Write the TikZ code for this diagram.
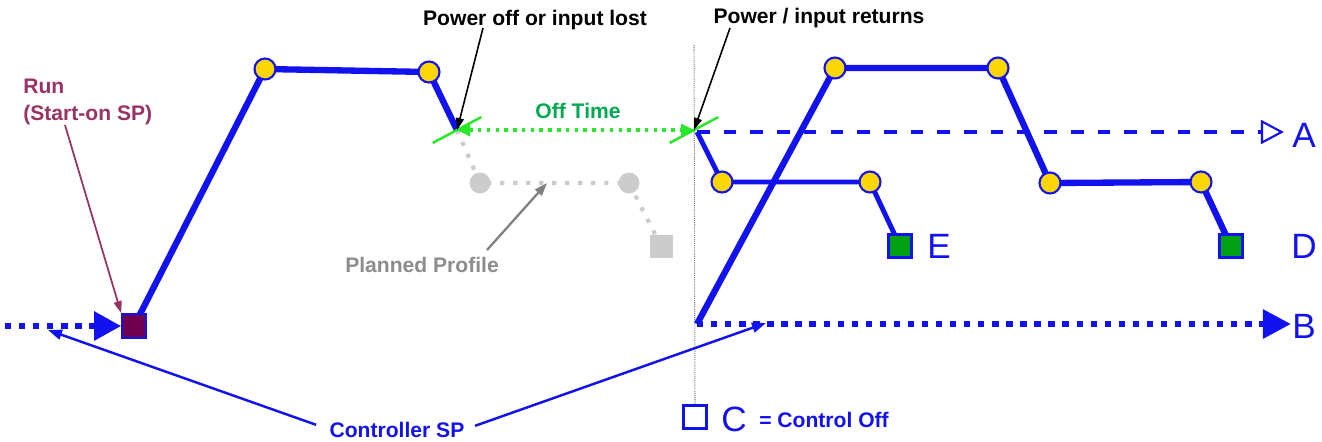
\documentclass[tikz,border=0pt]{standalone}
\usepackage{fontspec}
\setmainfont{Liberation Sans}
\usetikzlibrary{arrows.meta}
\definecolor{pblue}{RGB}{18,18,238}
\definecolor{pyellow}{RGB}{252,214,0}
\definecolor{pgreen}{RGB}{0,160,20}
\definecolor{pplum}{RGB}{153,51,102}
\definecolor{prun}{RGB}{110,0,80}
\definecolor{pgray}{RGB}{204,204,204}
\definecolor{plabgray}{RGB}{140,140,140}
\definecolor{parrgray}{RGB}{128,128,128}
\definecolor{offgreen}{RGB}{0,168,80}
\definecolor{brightgreen}{RGB}{40,232,40}
\pgfdeclarelayer{bg}
\pgfsetlayers{bg,main}
\begin{document}
\begin{tikzpicture}[x=0.02cm,y=-0.02cm,
  prof/.style={draw=pblue,line width=3.6pt,line join=round},
  eprof/.style={draw=pblue,line width=2.8pt,line join=round},
  ydot/.style={circle,draw=pblue,fill=pyellow,line width=1.2pt,minimum size=0.42cm,inner sep=0pt},
  gsq/.style={rectangle,draw=pblue,fill=pgreen,line width=1.2pt,minimum size=0.46cm,inner sep=0pt},
  runsq/.style={rectangle,draw=pblue,fill=prun,line width=1pt,minimum size=0.48cm,inner sep=0pt},
  csq/.style={rectangle,draw=pblue,fill=white,line width=1.2pt,minimum size=0.46cm,inner sep=0pt},
  gcirc/.style={circle,fill=pgray,minimum size=0.42cm,inner sep=0pt},
  gbox/.style={rectangle,fill=pgray,minimum size=0.46cm,inner sep=0pt},
  graydot/.style={draw=pgray,line width=2.4pt,dash pattern=on 2.4pt off 5pt},
  spdot/.style={draw=pblue,line width=3.4pt,dash pattern=on 3.6pt off 4.4pt},
  adash/.style={draw=pblue,line width=2.8pt,dash pattern=on 7.2pt off 8pt},
  ticklen/.style={rectangle,fill=brightgreen,minimum width=1.1cm,minimum height=0.05cm,inner sep=0pt},
  offarrow/.style={draw=brightgreen,line width=2pt,dash pattern=on 2pt off 3pt,
     {Triangle[length=0.26cm,width=0.24cm]}-{Triangle[length=0.26cm,width=0.24cm]}},
  blkarrow/.style={draw=black,line width=0.9pt,-{Triangle[length=0.24cm,width=0.16cm]}},
  runarrow/.style={draw=pplum,line width=1pt,-{Triangle[length=0.24cm,width=0.16cm]}},
  ctrlarrow/.style={draw=pblue,line width=1.4pt,-{Triangle[length=0.28cm,width=0.2cm]}},
  pparrow/.style={draw=parrgray,line width=1.3pt,-{Triangle[length=0.26cm,width=0.18cm]}},
  vline/.style={draw=gray,line width=0.6pt,dash pattern=on 0.6pt off 0.6pt},
  lab/.style={font=\fontsize{12}{14}\selectfont\bfseries,inner sep=0pt,anchor=base},
  letter/.style={font=\fontsize{20}{24}\selectfont,text=pblue,inner sep=0pt,anchor=base}
]
\useasboundingbox (0,0) rectangle (1322,441);

% ---------- coordinates ----------
\coordinate (L0) at (5,326);
\coordinate (Estart) at (697,132);
\coordinate (Bs) at (697,324);
\coordinate (vtop) at (694,45);

% ---------- nodes (main layer) ----------
\node[runsq] (run) at (134,326) {};
\node[ydot] (p1) at (265,69) {};
\node[ydot] (p2) at (429,72) {};
\node[ticklen,rotate=28] (tickL) at (457,130) {};
\node[ticklen,rotate=28] (tickR) at (694,130) {};

\node[gcirc] (g1) at (480,183) {};
\node[gcirc] (g2) at (629,183) {};
\node[gbox] (g3) at (661,246) {};

\node[ydot] (e1) at (722,182) {};
\node[ydot] (e2) at (870,182) {};
\node[gsq] (esq) at (900,246) {};

\node[ydot] (d1) at (835,68) {};
\node[ydot] (d2) at (998,68) {};
\node[ydot] (d3) at (1050,183) {};
\node[ydot] (d4) at (1201,182) {};
\node[gsq] (dsq) at (1231,246) {};

\node[csq] (cbox) at (695,417) {};

% letters
\node[letter] (Alab) at (1304,147) {A};
\node[letter] (Blab) at (1304,338) {B};
\node[letter] (Dlab) at (1304,258) {D};
\node[letter] (Elab) at (939,258) {E};
\node[letter] (Clab) at (734,431) {C};

% text labels
\node[lab] (poff) at (535,25) {Power off or input lost};
\node[lab] (pret) at (819,23) {Power / input returns};
\node[lab,text=offgreen] (offt) at (578,118) {Off Time};
\node[lab,text=pplum,anchor=base west] (run1) at (23,93) {Run};
\node[lab,text=pplum,anchor=base west] (run2) at (23,120) {(Start-on SP)};
\node[lab,text=plabgray] (plan) at (422,272) {Planned Profile};
\node[lab,text=pblue] (ctrl) at (397,437) {Controller SP};
\node[lab,text=pblue] (coff) at (824,427) {= Control Off};

% free ends of pointer arrows
\coordinate (runtail) at (65,125);
\coordinate (pofftail) at (483,28);
\coordinate (prettail) at (730,28);
\coordinate (pptail) at (487,250);
\coordinate (pphead) at (547,183);
\coordinate (ctlhead) at (48,330);
\coordinate (ctrhead) at (766,323);

% ---------- lines (background layer) ----------
\begin{pgfonlayer}{bg}
  \draw[vline] (vtop) -- (cbox.north);
  \draw[graydot] (tickL.center) -- (g1.center) -- (g2.center) -- (g3.center);
  \draw[spdot,-{Triangle[length=0.54cm,width=0.56cm]}] (L0) -- (run.west);
  \draw[prof] (run.center) -- (p1.center) -- (p2.center) -- (tickL.center);
  \draw[adash,-{Triangle[open,length=0.46cm,width=0.48cm,line width=1.2pt]},shorten >=0.16cm] (Estart) -- (Estart -| Alab.west);
  \draw[spdot,-{Triangle[length=0.56cm,width=0.56cm]},shorten >=0.02cm] (Bs) -- (Bs -| Blab.west);
  \draw[eprof] (Estart) -- (e1.center) -- (e2.center) -- (esq.center);
  \draw[prof] (Bs) -- (d1.center) -- (d2.center) -- (d3.center) -- (d4.center) -- (dsq.center);
\end{pgfonlayer}

% off time arrow and pointers
\draw[offarrow] (tickL.center) -- (tickR.center);
\draw[blkarrow] (pofftail) -- (tickL.center);
\draw[blkarrow] (prettail) -- (tickR.center);
\draw[runarrow] (runtail) -- (run.north west);
\draw[pparrow] (pptail) -- (pphead);
\draw[ctrlarrow,shorten <=0.28cm] (ctrl.west) -- (ctlhead);
\draw[ctrlarrow,shorten <=0.22cm] (ctrl.east) -- (ctrhead);
\end{tikzpicture}
\end{document}
